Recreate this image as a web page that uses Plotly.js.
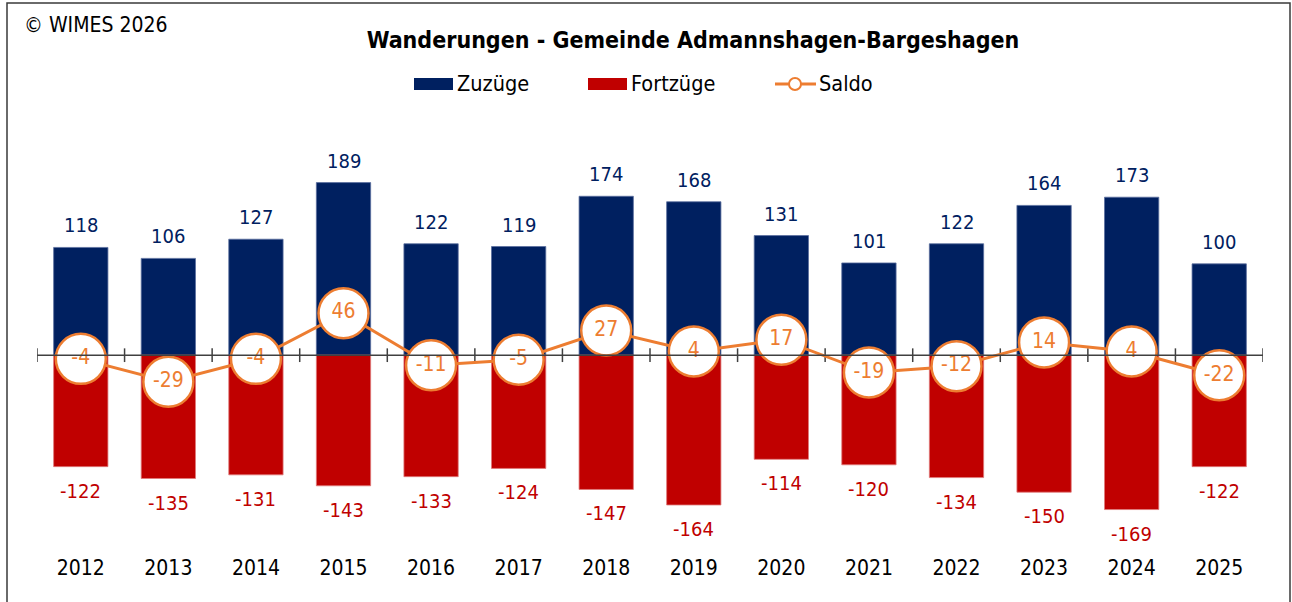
<!DOCTYPE html>
<html>
<head>
<meta charset="utf-8">
<script src="https://cdn.plot.ly/plotly-3.0.1.min.js"></script>
<style>html,body{margin:0;padding:0;background:#fff;}#chart{width:1292px;height:602px;}</style>
</head>
<body>
<div id="chart"></div>
<script>
const years = ['2012','2013','2014','2015','2016','2017','2018','2019','2020','2021','2022','2023','2024','2025'];
const zuzuege = [118,106,127,189,122,119,174,168,131,101,122,164,173,100];
const fortzuege = [-122,-135,-131,-143,-133,-124,-147,-164,-114,-120,-134,-150,-169,-122];
const saldo = [-4,-29,-4,46,-11,-5,27,4,17,-19,-12,14,4,-22];

const FONT = '"DejaVu Sans Condensed", "DejaVu Sans", sans-serif';
const NAVY = '#002060', RED = '#C00000', ORANGE = '#ED7D31';
const W = 1292, H = 602;
const L = 37, R = 29, T = 136, B = 55;
const PW = W - L - R, PH = H - T - B;
const px = v => (v - L) / PW;
const py = v => (H - B - v) / PH;

const traces = [
  {type:'bar', name:'Zuzüge', x:years, y:zuzuege, width:0.62, marker:{color:NAVY, line:{width:0.8, color:'#5a6f9e'}}, hoverinfo:'x+y'},
  {type:'bar', name:'Fortzüge', x:years, y:fortzuege, width:0.62, marker:{color:RED, line:{width:0.8, color:'#e07a7a'}}, hoverinfo:'x+y'},
  {type:'scatter', name:'Saldo', x:years, y:saldo, mode:'lines+markers+text', text:saldo.map(String),
   textposition:'middle center', textfont:{family:FONT, size:21, color:ORANGE},
   line:{color:ORANGE, width:3}, marker:{size:50, color:'#ffffff', line:{color:ORANGE, width:2.5}}, cliponaxis:false}
];

const annotations = [];
years.forEach((yr, i) => {
  annotations.push({xref:'x', yref:'y', x:i, y:zuzuege[i], text:String(zuzuege[i]), showarrow:false, yanchor:'bottom', yshift:8,
    font:{family:FONT, size:20, color:NAVY}});
  annotations.push({xref:'x', yref:'y', x:i, y:fortzuege[i], text:String(fortzuege[i]), showarrow:false, yanchor:'top', yshift:-10,
    font:{family:FONT, size:20, color:RED}});
});
annotations.push({xref:'paper', yref:'paper', x:px(22), y:py(25), xanchor:'left', yanchor:'middle', showarrow:false,
  text:'© WIMES 2026', font:{family:FONT, size:21, color:'#000'}});
// legend texts
annotations.push({xref:'paper', yref:'paper', x:px(455), y:py(84), xanchor:'left', yanchor:'middle', showarrow:false, text:'Zuzüge', font:{family:FONT, size:21.5, color:'#000'}});
annotations.push({xref:'paper', yref:'paper', x:px(629), y:py(84), xanchor:'left', yanchor:'middle', showarrow:false, text:'Fortzüge', font:{family:FONT, size:21.5, color:'#000'}});
annotations.push({xref:'paper', yref:'paper', x:px(817), y:py(84), xanchor:'left', yanchor:'middle', showarrow:false, text:'Saldo', font:{family:FONT, size:21.5, color:'#000'}});

const shapes = [];
// frame
shapes.push({type:'rect', xref:'paper', yref:'paper', x0:px(7), x1:px(1290), y0:py(612), y1:py(3), line:{color:'#3a3a3a', width:1.5}, layer:'below'});
// zero axis line
shapes.push({type:'line', xref:'x', yref:'y', x0:-0.5, x1:years.length - 0.5, y0:0, y1:0, line:{color:'#404040', width:1.5}, layer:'above'});
for (let k = 0; k <= years.length; k++) {
  shapes.push({type:'line', xref:'x', yref:'y', x0:k - 0.5, x1:k - 0.5, y0:-7.5, y1:7.5, line:{color:'#404040', width:1.5}, layer:'below'});
}
// legend swatches
shapes.push({type:'rect', xref:'paper', yref:'paper', x0:px(414), x1:px(453), y0:py(90), y1:py(78), fillcolor:NAVY, line:{width:0}});
shapes.push({type:'rect', xref:'paper', yref:'paper', x0:px(588), x1:px(627), y0:py(90), y1:py(78), fillcolor:RED, line:{width:0}});
shapes.push({type:'line', xref:'paper', yref:'paper', x0:px(775), x1:px(816), y0:py(84), y1:py(84), line:{color:ORANGE, width:3}});
shapes.push({type:'circle', xref:'paper', yref:'paper', x0:px(789), x1:px(801), y0:py(90), y1:py(78), fillcolor:'#fff', line:{color:ORANGE, width:2}});

const layout = {
  width:W, height:H,
  margin:{l:L, r:R, t:T, b:B, pad:0},
  paper_bgcolor:'#fff', plot_bgcolor:'#fff',
  barmode:'relative',
  showlegend:false,
  title:{text:'<b>Wanderungen - Gemeinde Admannshagen-Bargeshagen</b>', x:693/W, xanchor:'center', y:1 - 40/H, yanchor:'middle',
    font:{family:FONT, size:23, color:'#000'}},
  xaxis:{type:'category', range:[-0.5, years.length - 0.5], showgrid:false, zeroline:false, showline:false,
    ticks:'outside', ticklen:2, tickcolor:'rgba(0,0,0,0)', tickfont:{family:FONT, size:21, color:'#000'}, fixedrange:true},
  yaxis:{range:[-210, 240], showgrid:false, zeroline:false, showline:false, showticklabels:false, ticks:'', fixedrange:true},
  shapes:shapes,
  annotations:annotations,
  font:{family:FONT}
};

Plotly.newPlot('chart', traces, layout, {displayModeBar:false, staticPlot:true});
</script>
</body>
</html>
